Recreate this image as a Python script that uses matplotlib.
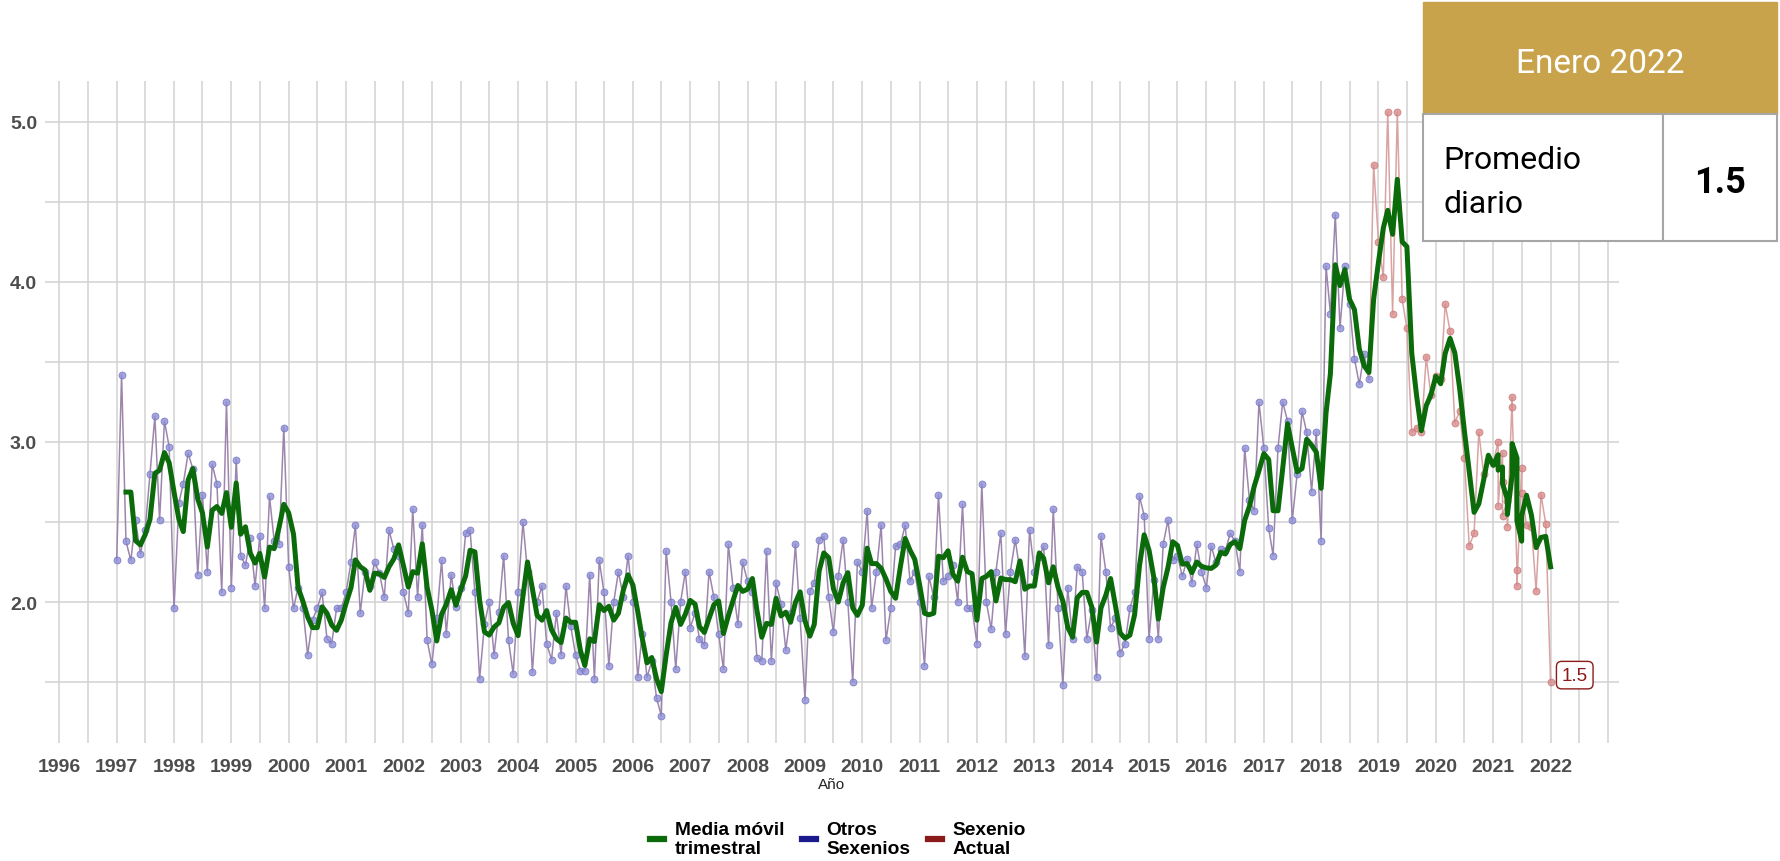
import pandas as pd
import matplotlib
matplotlib.use('Agg')
import matplotlib.pyplot as plt
from matplotlib.lines import Line2D
from matplotlib.patches import Rectangle


# promedio diario por mes, ene 1997 - dic 2020 (12 por renglon)
valores = [
    2.26, 3.42, 2.38, 2.26, 2.51, 2.30, 2.45, 2.80, 3.16, 2.51, 3.13, 2.97,
    1.96, 2.62, 2.74, 2.93, 2.83, 2.17, 2.67, 2.19, 2.86, 2.74, 2.06, 3.25,
    2.09, 2.89, 2.29, 2.23, 2.40, 2.10, 2.41, 1.96, 2.66, 2.38, 2.36, 3.09,
    2.22, 1.96, 2.09, 1.96, 1.67, 1.89, 1.96, 2.06, 1.77, 1.74, 1.96, 1.96,
    2.06, 2.25, 2.48, 1.93, 2.19, 2.10, 2.25, 2.18, 2.03, 2.45, 2.33, 2.29,
    2.06, 1.93, 2.58, 2.03, 2.48, 1.76, 1.61, 1.90, 2.26, 1.80, 2.17, 1.97,
    2.09, 2.43, 2.45, 2.06, 1.52, 1.86, 2.00, 1.67, 1.94, 2.29, 1.76, 1.55,
    2.06, 2.50, 2.19, 1.56, 2.00, 2.10, 1.74, 1.64, 1.93, 1.67, 2.10, 1.85,
    1.67, 1.57, 1.57, 2.17, 1.52, 2.26, 2.06, 1.60, 2.00, 2.19, 2.03, 2.29,
    2.00, 1.53, 1.80, 1.53, 1.63, 1.40, 1.29, 2.32, 2.00, 1.58, 2.00, 2.19,
    1.84, 1.93, 1.77, 1.73, 2.19, 2.03, 1.80, 1.58, 2.36, 2.09, 1.86, 2.25,
    2.13, 2.06, 1.65, 1.63, 2.32, 1.63, 2.12, 1.99, 1.70, 1.93, 2.36, 1.90,
    1.39, 2.07, 2.12, 2.39, 2.41, 2.03, 1.81, 2.16, 2.39, 2.00, 1.50, 2.25,
    2.19, 2.57, 1.96, 2.19, 2.48, 1.76, 1.96, 2.35, 2.36, 2.48, 2.13, 2.19,
    2.00, 1.60, 2.16, 2.03, 2.67, 2.13, 2.16, 2.23, 2.00, 2.61, 1.96, 1.96,
    1.74, 2.74, 2.00, 1.83, 2.19, 2.43, 1.80, 2.19, 2.39, 2.19, 1.66, 2.45,
    2.19, 2.28, 2.35, 1.73, 2.58, 1.96, 1.48, 2.09, 1.77, 2.22, 2.19, 1.77,
    1.95, 1.53, 2.41, 2.19, 1.84, 1.90, 1.68, 1.74, 1.96, 2.06, 2.66, 2.54,
    1.77, 2.14, 1.77, 2.36, 2.51, 2.26, 2.29, 2.16, 2.27, 2.12, 2.36, 2.19,
    2.09, 2.35, 2.25, 2.33, 2.32, 2.43, 2.38, 2.19, 2.96, 2.64, 2.57, 3.25,
    2.96, 2.46, 2.29, 2.96, 3.25, 3.13, 2.51, 2.80, 3.19, 3.06, 2.69, 3.06,
    2.38, 4.10, 3.80, 4.42, 3.71, 4.10, 3.86, 3.52, 3.36, 3.55, 3.39, 4.73,
    4.25, 4.03, 5.06, 3.80, 5.06, 3.89, 3.71, 3.06, 3.09, 3.06, 3.53, 3.29,
    3.41, 3.39, 3.86, 3.69, 3.12, 3.19, 2.90, 2.35, 2.43, 3.06, 2.80, 2.89,
]

# en 2021 hay meses con mas de un registro
meses_2021 = [1, 2, 2, 3, 3, 3, 4, 4, 5, 5, 6, 6, 7, 7, 8, 9, 10, 11, 12]
valores_2021 = [2.87, 3.00, 2.60, 2.93, 2.75, 2.54, 2.63, 2.47, 3.28, 3.22,
                2.20, 2.10, 2.84, 2.68, 2.48, 2.47, 2.07, 2.67, 2.49]
valor_ene_2022 = 1.5

inicio_sexenio = pd.Timestamp('2018-12-01')
anios = list(range(1996, 2024))
etiquetas_anios = [str(a) for a in range(1996, 2023)] + ['']


fechas = list(pd.date_range('1997-01-01', periods=len(valores), freq='MS'))
fechas += [pd.Timestamp(2021, m, 1) for m in meses_2021]
fechas += [pd.Timestamp('2022-01-01')]
df = pd.DataFrame({'fecha': fechas, 'valor': valores + valores_2021 + [valor_ene_2022]})
df['media'] = df['valor'].rolling(3).mean()

otros = df[df['fecha'] < inicio_sexenio]
# la linea roja arranca desde el ultimo punto del sexenio anterior
actual = df.iloc[len(otros) - 1:]

plt.rcParams['font.family'] = ['Liberation Sans', 'DejaVu Sans']

fig = plt.figure(figsize=(17.81, 8.62), dpi=100)
ax = fig.add_axes([0.0255, 0.137, 0.8833, 0.768])

ax.plot(otros['fecha'], otros['valor'], color='#9c86ad', lw=1.1, zorder=2)
ax.plot(otros['fecha'], otros['valor'], ls='none', marker='o', ms=5,
        mfc='#8e8ed6', mec='#7070c0', mew=0.6, alpha=0.8, zorder=3)
ax.plot(actual['fecha'], actual['valor'], color='#d9a3a3', lw=1.1, zorder=2)
ax.plot(actual['fecha'].iloc[1:], actual['valor'].iloc[1:], ls='none', marker='o', ms=5,
        mfc='#d98c8c', mec='#c77474', mew=0.6, alpha=0.8, zorder=3)
ax.plot(df['fecha'], df['media'], color='#0b6b0b', lw=3.6, zorder=4,
        solid_joinstyle='round')

ultimo = df.iloc[-1]
ax.annotate(f"{ultimo['valor']:.1f}", (ultimo['fecha'], ultimo['valor']),
            xytext=(8, 5), textcoords='offset points', ha='left', va='center',
            fontsize=13.5, color='#8b1a1a',
            bbox=dict(boxstyle='round,pad=0.28', fc='white', ec='#8b1a1a', lw=1))

ax.set_ylim(1.12, 5.255)
ax.set_yticks([2, 3, 4, 5])
ax.set_yticklabels(['2.0', '3.0', '4.0', '5.0'])
ax.set_yticks([1.5, 2.5, 3.5, 4.5], minor=True)

ax.set_xticks([pd.Timestamp(a, 1, 1) for a in anios])
ax.set_xticklabels(etiquetas_anios)
ax.set_xticks([pd.Timestamp(a, 7, 1) for a in anios[:-1]], minor=True)
ax.set_xlim(pd.Timestamp('1995-10-05'), pd.Timestamp('2023-03-10'))

ax.grid(True, which='both', color='#d2d2d2', lw=1.1)
ax.set_axisbelow(True)
for s in ax.spines.values():
    s.set_visible(False)
ax.tick_params(which='both', length=0)
ax.tick_params(axis='x', pad=11, labelsize=14, labelcolor='#4d4d4d')
ax.tick_params(axis='y', pad=6, labelsize=14, labelcolor='#4d4d4d')
for lbl in ax.get_xticklabels() + ax.get_yticklabels():
    lbl.set_fontweight('bold')
ax.set_xlabel('Año', fontsize=11, color='#222222', labelpad=1)

handles = [Line2D([], [], color='#0b6b0b', lw=4.5),
           Line2D([], [], color='#1a1a8c', lw=4.5),
           Line2D([], [], color='#8b1a1a', lw=4.5)]
fig.legend(handles, ['Media móvil\ntrimestral', 'Otros\nSexenios', 'Sexenio\nActual'],
           loc='center', bbox_to_anchor=(0.4705, 0.0255), ncol=3, frameon=False,
           handlelength=0.75, handletextpad=0.55, columnspacing=0.9,
           prop={'weight': 'bold', 'size': 13.8}, labelspacing=0.1)

# recuadro con el dato del mes
fig.add_artist(Rectangle((0.7992, 0.8666), 0.1987, 0.1296, transform=fig.transFigure,
                         fc='#c9a34b', ec='#c9a34b', lw=1, zorder=5))
fig.add_artist(Rectangle((0.7992, 0.7189), 0.1344, 0.1477, transform=fig.transFigure,
                         fc='white', ec='#a6a6a6', lw=1.5, zorder=5))
fig.add_artist(Rectangle((0.9336, 0.7189), 0.0643, 0.1477, transform=fig.transFigure,
                         fc='white', ec='#a6a6a6', lw=1.5, zorder=5))
fig.text(0.8984, 0.915, 'Enero 2022', ha='center', va='baseline', color='white',
         fontsize=24, family=['Roboto', 'DejaVu Sans'], zorder=6)
fig.text(0.8104, 0.804, 'Promedio', ha='left', va='baseline', color='black',
         fontsize=23, family=['Roboto', 'DejaVu Sans'], zorder=6)
fig.text(0.8104, 0.753, 'diario', ha='left', va='baseline', color='black',
         fontsize=23, family=['Roboto', 'DejaVu Sans'], zorder=6)
fig.text(0.9657, 0.7757, f"{valor_ene_2022:.1f}", ha='center', va='baseline', color='black',
         fontsize=26, family=['Roboto', 'DejaVu Sans'], fontweight='bold', zorder=6)

plt.savefig('out.png', dpi=100)
